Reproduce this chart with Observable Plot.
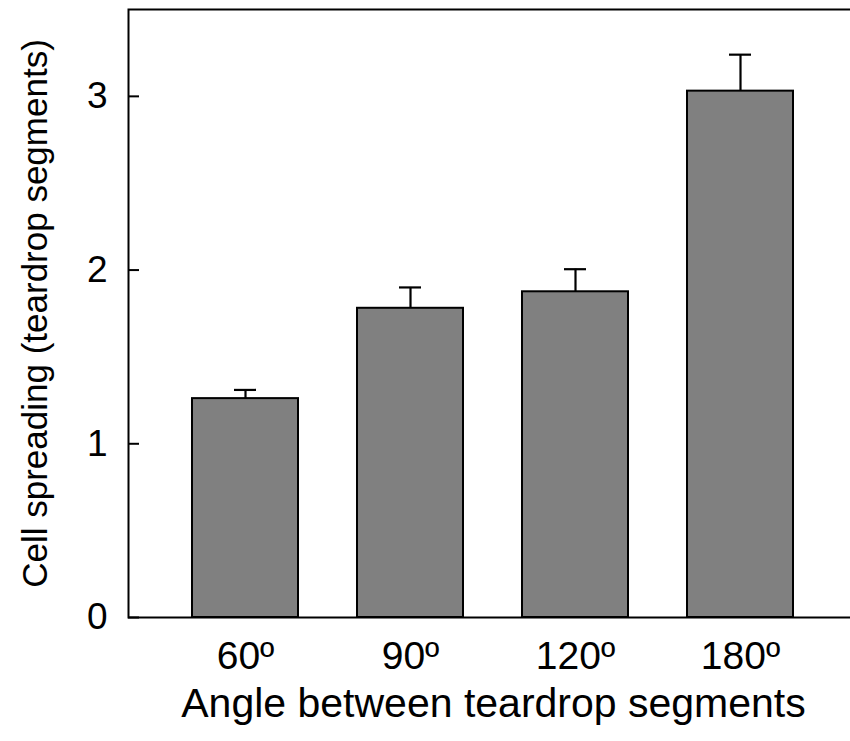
<!DOCTYPE html>
<html>
<head>
<meta charset="utf-8">
<script src="https://cdn.jsdelivr.net/npm/d3@7"></script>
<script src="https://cdn.jsdelivr.net/npm/@observablehq/plot@0.6"></script>
<style>
  html, body { margin: 0; padding: 0; background: #fff; overflow: hidden; }
  #chart svg { max-width: none !important; display: block; }
</style>
</head>
<body>
<div id="chart"></div>
<script>
const angles = ["60º", "90º", "120º", "180º"];
const spreading = [1.26, 1.78, 1.875, 3.03];
const errors = [0.05, 0.12, 0.13, 0.21];
const yTicks = [0, 1, 2, 3];
const xTitle = "Angle between teardrop segments";
const yTitle = "Cell spreading (teardrop segments)";

const data = angles.map((a, i) => ({angle: a, value: spreading[i], hi: spreading[i] + errors[i]}));

const plot = Plot.plot({
  width: 870,
  height: 741,
  marginLeft: 128,
  marginRight: 12,
  marginTop: 9,
  marginBottom: 124,
  style: {fontFamily: "'Liberation Sans', Arial, sans-serif", color: "#000", background: "#fff"},
  x: {domain: angles, paddingInner: 0.355, paddingOuter: 0.38},
  y: {domain: [0, 3.5]},
  marks: [
    Plot.ruleX(data, {x: "angle", y1: "value", y2: "hi", stroke: "#000", strokeWidth: 2.2}),
    Plot.tickY(data, {x: "angle", y: "hi", stroke: "#000", strokeWidth: 2.2, insetLeft: 42, insetRight: 42}),
    Plot.barY(data, {x: "angle", y: "value", fill: "#808080", stroke: "#000", strokeWidth: 2}),
    Plot.frame({stroke: "#000", strokeWidth: 2}),
    Plot.axisY({ticks: yTicks, tickSize: -11, tickPadding: 32, tickFormat: d => String(d), fontSize: 37, label: null, strokeWidth: 2}),
    Plot.axisX({tickSize: 0, tickPadding: 24, fontSize: 39, label: null}),
    Plot.text([xTitle], {frameAnchor: "bottom", dy: 99, fontSize: 41, fill: "#000"}),
    Plot.text([yTitle], {frameAnchor: "left", textAnchor: "middle", rotate: -90, dx: -93, fontSize: 35, fill: "#000"})
  ]
});
document.getElementById("chart").appendChild(plot);
</script>
</body>
</html>
